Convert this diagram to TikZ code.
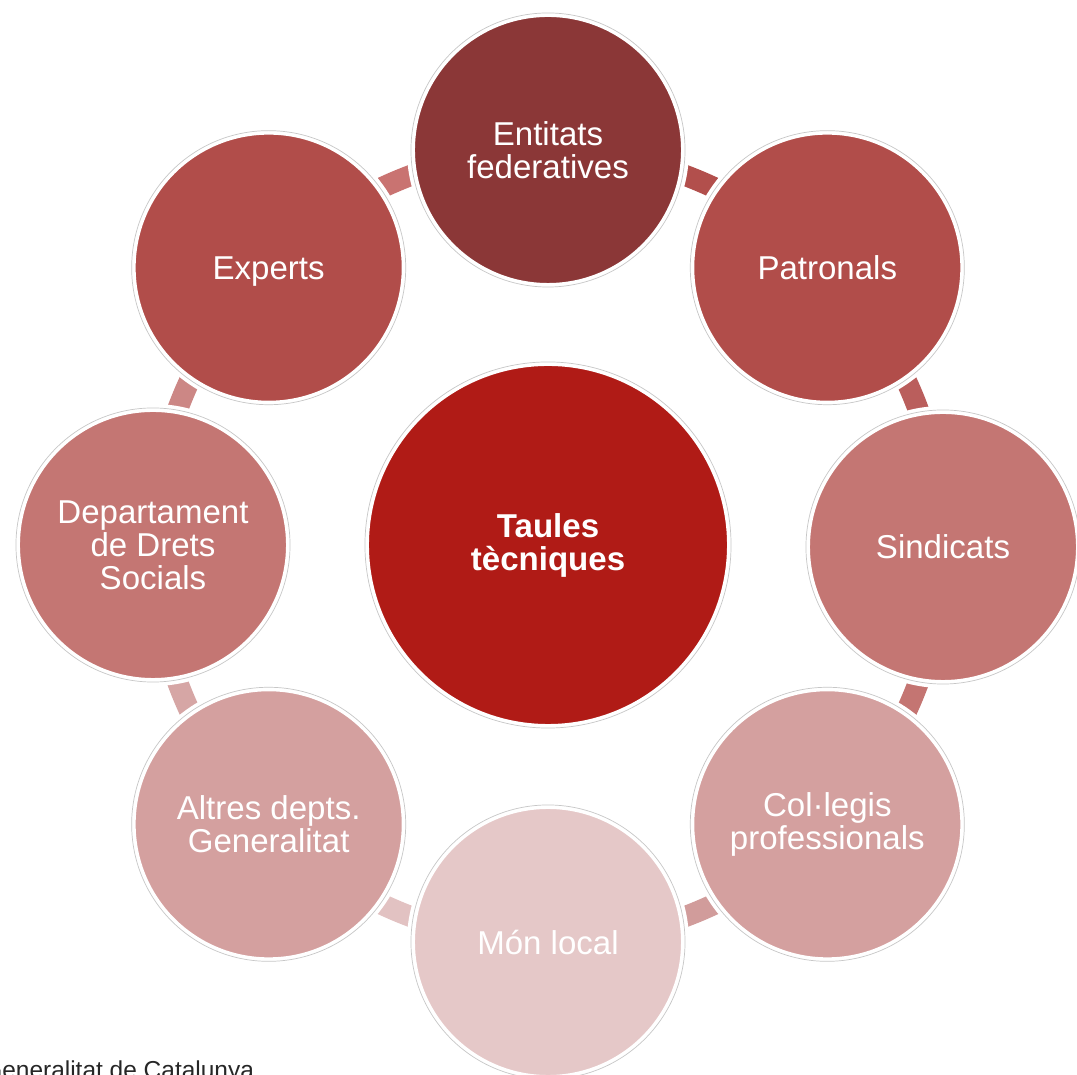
\documentclass[tikz,border=0pt]{standalone}
\usepackage{fontspec}
\setmainfont{Liberation Sans}
\usepackage{tikz}
\usetikzlibrary{backgrounds}
\definecolor{TaulesRed}{RGB}{176, 27, 22}
\definecolor{RoseA}{RGB}{139, 55, 55}
\definecolor{RoseB}{RGB}{177, 77, 74}
\definecolor{RoseC}{RGB}{196, 118, 115}
\definecolor{RoseD}{RGB}{212, 160, 159}
\definecolor{RoseE}{RGB}{229, 200, 200}
\definecolor{LinkA}{RGB}{178, 79, 76}
\definecolor{LinkB}{RGB}{186, 94, 92}
\definecolor{LinkC}{RGB}{196, 117, 114}
\definecolor{LinkD}{RGB}{209, 156, 155}
\definecolor{LinkE}{RGB}{226, 194, 194}
\definecolor{LinkF}{RGB}{214, 166, 165}
\definecolor{LinkG}{RGB}{204, 135, 133}
\definecolor{LinkH}{RGB}{201, 115, 113}

\begin{document}
\begin{tikzpicture}[x=0.025cm, y=0.025cm,
    bubble/.style={circle, minimum size=6.85cm, inner sep=0pt, draw=white, line width=5.7pt,
        postaction={draw=black!22, line width=0.5pt}, text=white, align=center,
        font=\fontsize{23.5}{23.5}\selectfont},
    oneline/.style={text depth=0pt, yshift=-2*0.025cm},
    link/.style={line width=15pt, looseness=0.885}]
    \useasboundingbox (-548,-530) rectangle (529,545);

    % 中心圆
    \node[bubble, fill=TaulesRed, minimum size=9.15cm, font=\fontsize{23.5}{23.5}\selectfont\bfseries] (taules) at (0,0) {Taules\\tècniques};

    % 外圈八个圆
    \node[bubble, fill=RoseA] (entitats) at (90:395) {Entitats\\federatives};
    \node[bubble, oneline, fill=RoseB] (patronals) at (45:395) {Patronals};
    \node[bubble, oneline, fill=RoseC] (sindicats) at (0:395) {Sindicats};
    \node[bubble, fill=RoseD] (collegis) at (-45:395) {Col·legis\\professionals};
    \node[bubble, oneline, fill=RoseE] (monlocal) at (-90:395) {Món local};
    \node[bubble, fill=RoseD] (altres) at (-135:395) {Altres depts.\\Generalitat};
    \node[bubble, fill=RoseC] (dept) at (180:395) {Departament\\de Drets\\Socials};
    \node[bubble, oneline, fill=RoseB] (experts) at (135:395) {Experts};

    % 圆之间的连接弧 (放在背景层)
    \begin{scope}[on background layer]
        \draw[link, LinkA] (entitats.center) to[bend left=22.5] (patronals.center);
        \draw[link, LinkB] (patronals.center) to[bend left=22.5] (sindicats.center);
        \draw[link, LinkC] (sindicats.center) to[bend left=22.5] (collegis.center);
        \draw[link, LinkD] (collegis.center) to[bend left=22.5] (monlocal.center);
        \draw[link, LinkE] (monlocal.center) to[bend left=22.5] (altres.center);
        \draw[link, LinkF] (altres.center) to[bend left=22.5] (dept.center);
        \draw[link, LinkG] (dept.center) to[bend left=22.5] (experts.center);
        \draw[link, LinkH] (experts.center) to[bend left=22.5] (entitats.center);
    \end{scope}

    % 来源
    \node[anchor=base west, inner sep=0pt, text=black!85, font=\fontsize{17.4}{17.4}\selectfont] (credit) at (-565,-533) {Generalitat de Catalunya};
\end{tikzpicture}
\end{document}
